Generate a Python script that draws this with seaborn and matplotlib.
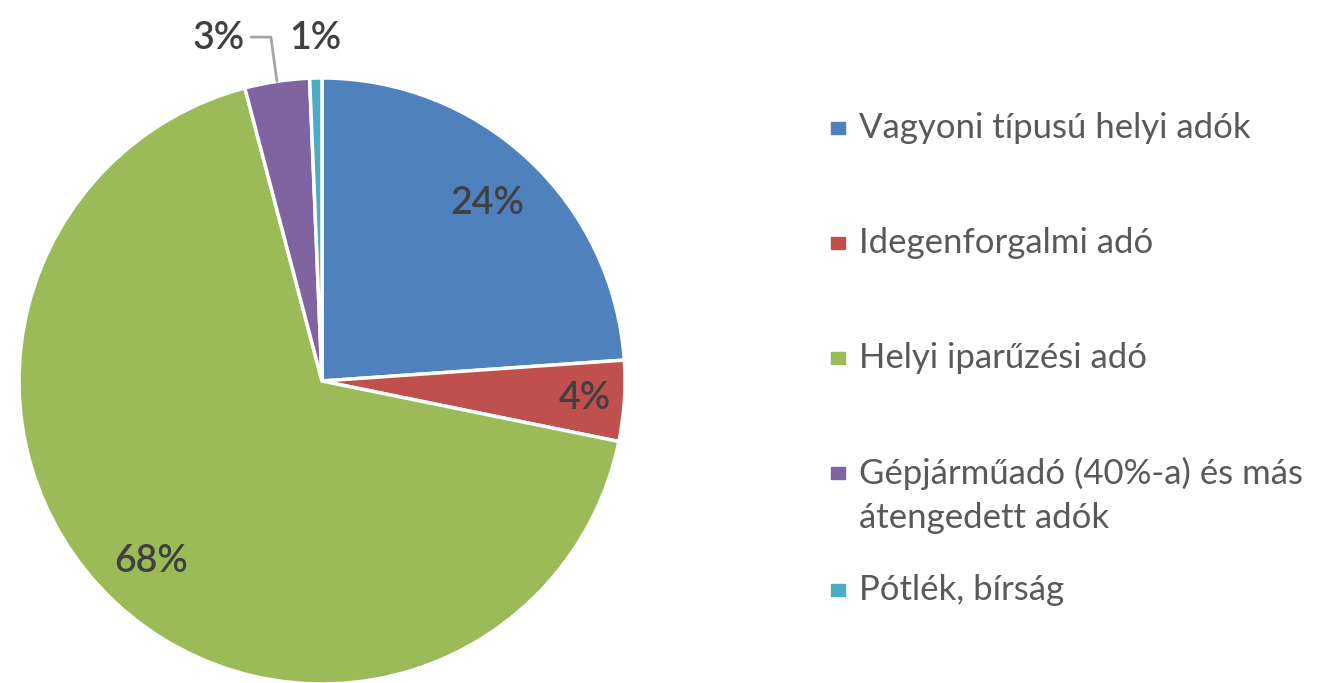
import numpy as np
import matplotlib
matplotlib.use("Agg")
import matplotlib.pyplot as plt
import seaborn as sns

categories = ["Vagyoni típusú helyi adók", "Idegenforgalmi adó", "Helyi iparűzési adó",
              "Gépjárműadó (40%-a) és más\nátengedett adók", "Pótlék, bírság"]
values = [23.9, 4.3, 67.7, 3.45, 0.65]
colors = ["#4F81BD", "#C0504D", "#9BBB59", "#8064A2", "#4BACC6"]

sns.set_theme(style="white")
plt.rcParams['font.family'] = ['Lato', 'DejaVu Sans']

fig = plt.figure(figsize=(13.17, 6.83), dpi=100)
fig.patch.set_facecolor("white")
W, H = 1317, 683
cx, cy, R = 322, 381, 303
ax = fig.add_axes([(cx - R) / W, (H - cy - R) / H, 2 * R / W, 2 * R / H])

wedges, _ = ax.pie(values, colors=colors, startangle=90, counterclock=False, radius=1,
                   wedgeprops=dict(edgecolor="white", linewidth=2.5))
ax.set_xlim(-1, 1)
ax.set_ylim(-1, 1)
ax.set_aspect("equal")
ax.axis("off")

total = sum(values)
label_r = [0.80, 0.87, 0.82, 1.21, 1.13]
label_off = [0, 0, 0, -0.16, 0.0]
tc = "#404040"
for i, (w, v) in enumerate(zip(wedges, values)):
    mid = np.deg2rad((w.theta1 + w.theta2) / 2)
    x = label_r[i] * np.cos(mid) + label_off[i]
    y = label_r[i] * np.sin(mid)
    if i == 3:
        y = 1.13
    ax.text(x, y, f"{round(v / total * 100):.0f}%", ha="center", va="center",
            fontsize=27, color=tc, fontweight="semibold", clip_on=False)
    if i == 3:
        ex, ey = np.cos(mid), np.sin(mid)
        ax.plot([ex, ex - 0.02, ex - 0.085], [ey, 1.135, 1.135], color="#A6A6A6",
                lw=2, clip_on=False)

# legend
ys = [128, 243, 358, 473, 590]
lc = "#595959"
for lab, col, yy in zip(categories, colors, ys):
    fig.patches.append(plt.Rectangle((831 / W, 1 - (yy + 6) / H), 14 / W, 12 / H,
                                     transform=fig.transFigure, color=col))
    lines = lab.split("\n")
    for k, ln in enumerate(lines):
        fig.text(859 / W, 1 - (yy + 45 * k) / H, ln, ha="left", va="center",
                 fontsize=25, color=lc)

fig.savefig("out.png", dpi=100, facecolor="white")
